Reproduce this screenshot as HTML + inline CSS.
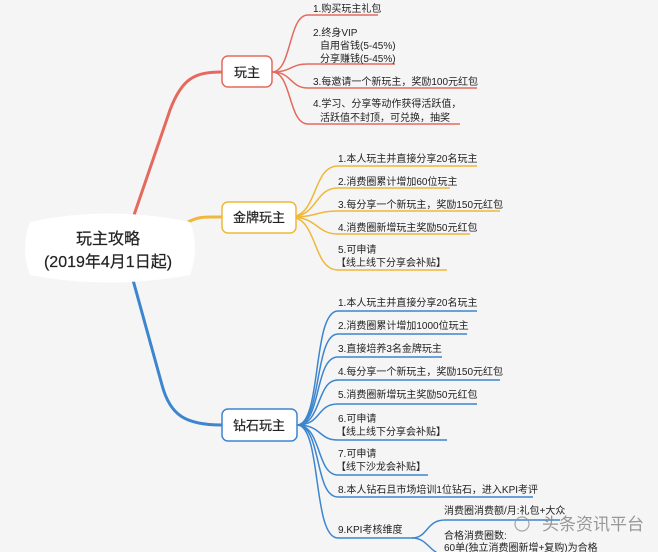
<!DOCTYPE html>
<html><head><meta charset="utf-8"><style>
html,body{margin:0;padding:0;background:#f5f5f5;}
svg{display:block;}
text{font-family:"Liberation Sans","Noto Sans CJK SC",sans-serif;fill:#222;}
.l{font-size:10px;}
</style></head><body>
<svg width="658" height="552" viewBox="0 0 658 552" xmlns="http://www.w3.org/2000/svg">
<rect width="658" height="552" fill="#f5f5f5"/>
<path d="M133,218 L170,110 C182,78 195,72 222,72" stroke="#e46a5e" stroke-width="3" fill="none"/>
<path d="M188,222 C200,216 205,217 222,217" stroke="#f0b73a" stroke-width="3" fill="none"/>
<path d="M133,280 L162,385 C170,415 185,425 222,425" stroke="#3d85cf" stroke-width="3" fill="none"/>
<path d="M30,222 Q108,205 190,222 Q200,248 190,275 Q108,290 30,275 Q20,248 30,222 Z" fill="#fff"/>
<text x="108" y="244" font-size="16" text-anchor="middle" stroke="#222" stroke-width="0.2">玩主攻略</text>
<text x="108" y="267" font-size="16" text-anchor="middle" stroke="#222" stroke-width="0.2">(2019年4月1日起)</text>

<g stroke="#e46a5e" stroke-width="1.5" fill="none">
<path d="M272,72 C292,72 288,15 308,15 L378,15"/>
<path d="M272,72 C292,72 290,64 308,64 L395,64"/>
<path d="M272,72 C292,72 290,88 308,88 L477,88"/>
<path d="M272,72 C292,72 288,124 308,124 L460,124"/>
</g>
<rect x="222" y="56" width="50" height="31" rx="6" fill="#fff" stroke="#e46a5e" stroke-width="1.5"/>
<text x="247" y="77" font-size="13" text-anchor="middle" stroke="#222" stroke-width="0.2">玩主</text>
<text class="l" x="313" y="12">1.购买玩主礼包</text>
<text class="l" x="313" y="36">2.终身VIP</text>
<text class="l" x="320" y="49">自用省钱(5-45%)</text>
<text class="l" x="320" y="62">分享赚钱(5-45%)</text>
<text class="l" x="313" y="85">3.每邀请一个新玩主，奖励100元红包</text>
<text class="l" x="313" y="107">4.学习、分享等动作获得活跃值，</text>
<text class="l" x="320" y="121">活跃值不封顶，可兑换，抽奖</text>

<g stroke="#f0b73a" stroke-width="1.5" fill="none">
<path d="M290,217 C318,217 312,166 338,166 L477,166"/>
<path d="M290,217 C318,217 314,188 338,188 L450,188"/>
<path d="M290,217 C318,217 316,211 338,211 L500,211"/>
<path d="M290,217 C318,217 316,234 338,234 L470,234"/>
<path d="M290,217 C318,217 312,270 338,270 L447,270"/>
</g>
<rect x="222" y="202" width="74" height="31" rx="6" fill="#fff" stroke="#f0b73a" stroke-width="1.5"/>
<text x="259" y="222" font-size="13" text-anchor="middle" stroke="#222" stroke-width="0.2">金牌玩主</text>
<text class="l" x="338" y="162">1.本人玩主并直接分享20名玩主</text>
<text class="l" x="338" y="185">2.消费圈累计增加60位玩主</text>
<text class="l" x="338" y="208">3.每分享一个新玩主，奖励150元红包</text>
<text class="l" x="338" y="231">4.消费圈新增玩主奖励50元红包</text>
<text class="l" x="338" y="253">5.可申请</text>
<text class="l" x="336" y="266">【线上线下分享会补贴】</text>

<g stroke="#3d85cf" stroke-width="1.5" fill="none">
<path d="M297,425 C322,425 312,311 338,311 L477,311"/>
<path d="M297,425 C322,425 314,334 338,334 L467,334"/>
<path d="M297,425 C322,425 314,357 338,357 L442,357"/>
<path d="M297,425 C322,425 316,380 338,380 L500,380"/>
<path d="M297,425 C322,425 316,404 338,404 L477,404"/>
<path d="M297,425 C322,425 318,440 338,440 L447,440"/>
<path d="M297,425 C322,425 316,475 338,475 L428,475"/>
<path d="M297,425 C322,425 314,497 338,497 L533,497"/>
<path d="M297,425 C322,425 312,538 338,538 L412,538"/>
<path d="M412,538 C428,538 426,520 445,520 L560,520"/>
<path d="M412,538 C428,538 428,552 445,556"/>
</g>
<rect x="222" y="409" width="75" height="32" rx="6" fill="#fff" stroke="#3d85cf" stroke-width="1.5"/>
<text x="259" y="430" font-size="13" text-anchor="middle" stroke="#222" stroke-width="0.2">钻石玩主</text>
<text class="l" x="338" y="306">1.本人玩主并直接分享20名玩主</text>
<text class="l" x="338" y="329">2.消费圈累计增加1000位玩主</text>
<text class="l" x="338" y="352">3.直接培养3名金牌玩主</text>
<text class="l" x="338" y="375">4.每分享一个新玩主，奖励150元红包</text>
<text class="l" x="338" y="398">5.消费圈新增玩主奖励50元红包</text>
<text class="l" x="338" y="422">6.可申请</text>
<text class="l" x="336" y="435">【线上线下分享会补贴】</text>
<text class="l" x="338" y="457">7.可申请</text>
<text class="l" x="336" y="470">【线下沙龙会补贴】</text>
<text class="l" x="338" y="493">8.本人钻石且市场培训1位钻石，进入KPI考评</text>
<text class="l" x="338" y="533">9.KPI考核维度</text>
<text class="l" x="444" y="514">消费圈消费额/月:礼包+大众</text>
<text class="l" x="444" y="539">合格消费圈数:</text>
<text class="l" x="444" y="551">60单(独立消费圈新增+复购)为合格</text>

<g opacity="0.85">
<circle cx="522" cy="524" r="7" fill="none" stroke="#999" stroke-width="1.2"/>
<text x="542" y="530" font-size="17" style="fill:#888">头条资讯平台</text>
</g>
</svg>
</body></html>
